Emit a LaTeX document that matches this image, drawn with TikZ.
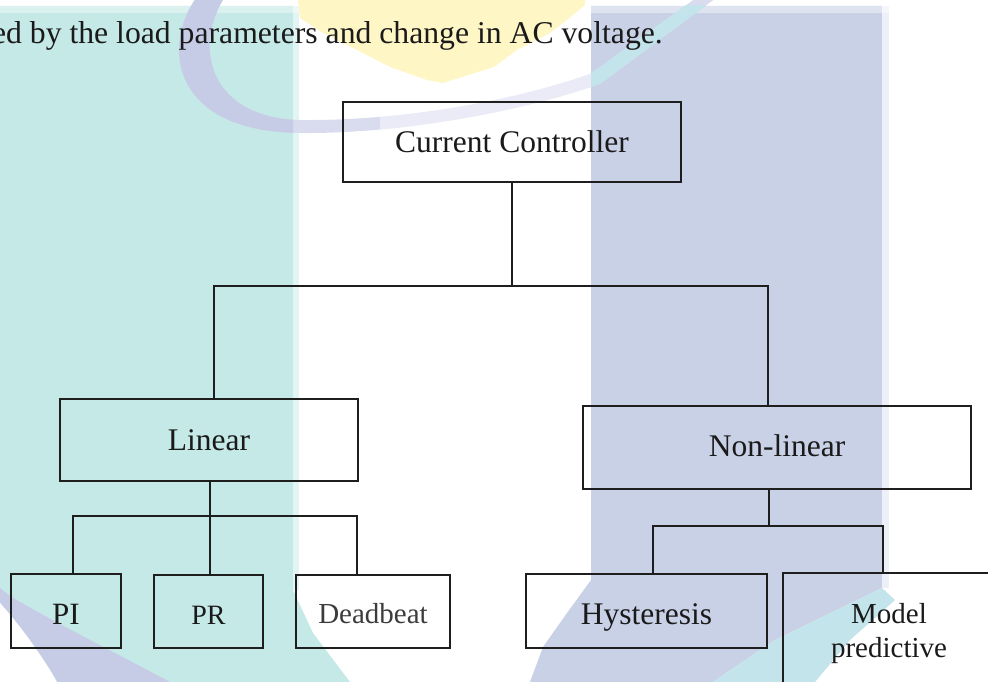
\documentclass[tikz,border=0pt]{standalone}
\usepackage{fontspec}
\setmainfont{Liberation Serif}
\definecolor{bandteal}{HTML}{C4E9E7}
\definecolor{tealfringe}{HTML}{E2F4F3}
\definecolor{bandblue}{HTML}{C9D1E6}
\definecolor{bluefringe}{HTML}{EEF0F7}
\definecolor{wmyellow}{HTML}{FFF6C6}
\definecolor{wmlav}{HTML}{C7CCE6}
\definecolor{wmlavlight}{HTML}{D9DCEF}
\definecolor{wmcyan}{HTML}{C3E4EA}
\definecolor{linec}{HTML}{1E1E1E}
\definecolor{textc}{HTML}{1A1A1A}
\begin{document}
\begin{tikzpicture}[x=1pt,y=-1pt,
  box/.style={draw=linec, line width=1.3pt, inner sep=0pt, text=textc,
    font=\fontsize{31.5}{36}\selectfont},
  oneline/.style={text depth=0pt, text height=#1},
  conn/.style={draw=linec, line width=1.2pt}]
\useasboundingbox (0,0) rectangle (988,682);
\clip (0,0) rectangle (988,682);
% ---------- watermark ----------
\fill[bandteal] (0,6) -- (293,6) -- (293,590) -- (313,633) -- (350,682) -- (0,682) -- cycle;
\fill[tealfringe] (293,6) rectangle (299,590);
\fill[bandblue] (591,6) -- (882,6) -- (882,588) -- (775,640) -- (713,682) -- (530,682)
  -- (543,647) -- (567,613) -- (591,580) -- cycle;
\fill[bluefringe] (882,6) rectangle (889,588);
\fill[wmcyan] (882,588) -- (895,600) -- (850,640) -- (815,682) -- (713,682) -- (775,640) -- cycle;
\fill[white, opacity=0.4] (0,6) rectangle (889,13);
\fill[wmyellow] (298,0) -- (300,18) -- (323,33) -- (357,50) -- (390,67) -- (427,80) -- (443,83)
  -- (494,67) -- (517,50) -- (550,33) -- (567,20) -- (585,5) -- (585,0) -- cycle;
% arc
\fill[wmlavlight] (196,-2) .. controls (160,50) and (175,132) .. (300,133)
  .. controls (400,134) and (520,112) .. (600,84) -- (716,-2) -- (696,-2) -- (590,74)
  .. controls (510,102) and (400,121) .. (300,120) .. controls (212,118) and (192,50) .. (224,-2) -- cycle;
\begin{scope}
\clip (380,0) rectangle (591,200);
\fill[white, opacity=0.45] (196,-2) .. controls (160,50) and (175,132) .. (300,133)
  .. controls (400,134) and (520,112) .. (600,84) -- (716,-2) -- (696,-2) -- (590,74)
  .. controls (510,102) and (400,121) .. (300,120) .. controls (212,118) and (192,50) .. (224,-2) -- cycle;
\end{scope}
\begin{scope}
\clip (0,0) rectangle (293,682);
\fill[wmlav] (196,-2) .. controls (160,50) and (175,132) .. (300,133)
  .. controls (400,134) and (520,112) .. (600,84) -- (716,-2) -- (696,-2) -- (590,74)
  .. controls (510,102) and (400,121) .. (300,120) .. controls (212,118) and (192,50) .. (224,-2) -- cycle;
\end{scope}
\begin{scope}
\clip (591,6) rectangle (882,682);
\fill[wmcyan] (196,-2) .. controls (160,50) and (175,132) .. (300,133)
  .. controls (400,134) and (520,112) .. (600,84) -- (716,-2) -- (696,-2) -- (590,74)
  .. controls (510,102) and (400,121) .. (300,120) .. controls (212,118) and (192,50) .. (224,-2) -- cycle;
\end{scope}
% bottom-left swoosh
\fill[wmlav] (0,588) -- (10,596) .. controls (50,620) and (110,650) .. (170,682) -- (57,682)
  .. controls (45,660) and (20,625) .. (0,603) -- cycle;
\fill[white] (0,603) .. controls (20,625) and (45,660) .. (57,682) -- (0,682) -- cycle;
% ---------- text line ----------
\node[anchor=base east, inner sep=0pt, text=textc, font=\fontsize{31.7}{38}\selectfont]
  (sent) at (663,44) {ed by the load parameters and change in AC voltage.};
% ---------- boxes ----------
\node[box, oneline=21pt, minimum width=338pt, minimum height=80pt] (cc) at (512,142) {Current Controller};
\node[box, oneline=20pt, minimum width=298pt, minimum height=82pt] (lin) at (209,440) {Linear};
\node[box, oneline=17pt, minimum width=388pt, minimum height=83pt] (nonlin) at (777,447.5) {Non-linear};
\node[box, oneline=26pt, minimum width=110pt, minimum height=74pt,
  font=\fontsize{31}{36}\selectfont] (pi) at (66,611) {PI};
\node[box, oneline=25pt, minimum width=109pt, minimum height=73pt,
  font=\fontsize{28}{34}\selectfont] (pr) at (208.5,611.5) {PR};
\node[box, oneline=23pt, minimum width=154pt, minimum height=73pt,
  font=\fontsize{29}{34}\selectfont, text=textc!85] (dead) at (373,611.5) {Deadbeat};
\node[box, oneline=26pt, minimum width=241pt, minimum height=74pt] (hys) at (646.5,611) {Hysteresis};
\node[box, align=center, minimum width=212pt, minimum height=120.6pt,
  font=\fontsize{29}{34}\selectfont] (model) at (889,633.3) {Model\\predictive};
% ---------- connectors ----------
\coordinate (j1) at (512,286);
\draw[conn] (cc.south) -- (j1);
\draw[conn] (j1) -| ([xshift=5pt]lin.north);
\draw[conn] (j1) -| ([xshift=-9pt]nonlin.north);
\coordinate (j2) at (210,516);
\draw[conn] ([xshift=1pt]lin.south) -- (j2);
\draw[conn] (j2) -| ([xshift=7pt]pi.north);
\draw[conn] (j2) -| ([xshift=-16pt]dead.north);
\draw[conn] (j2) -- ([xshift=1.5pt]pr.north);
\coordinate (j3) at (769,526);
\draw[conn] ([xshift=-8pt]nonlin.south) -- (j3);
\draw[conn] (j3) -| ([xshift=6.5pt]hys.north);
\draw[conn] (j3) -| ([xshift=-6pt]model.north);
\end{tikzpicture}
\end{document}
